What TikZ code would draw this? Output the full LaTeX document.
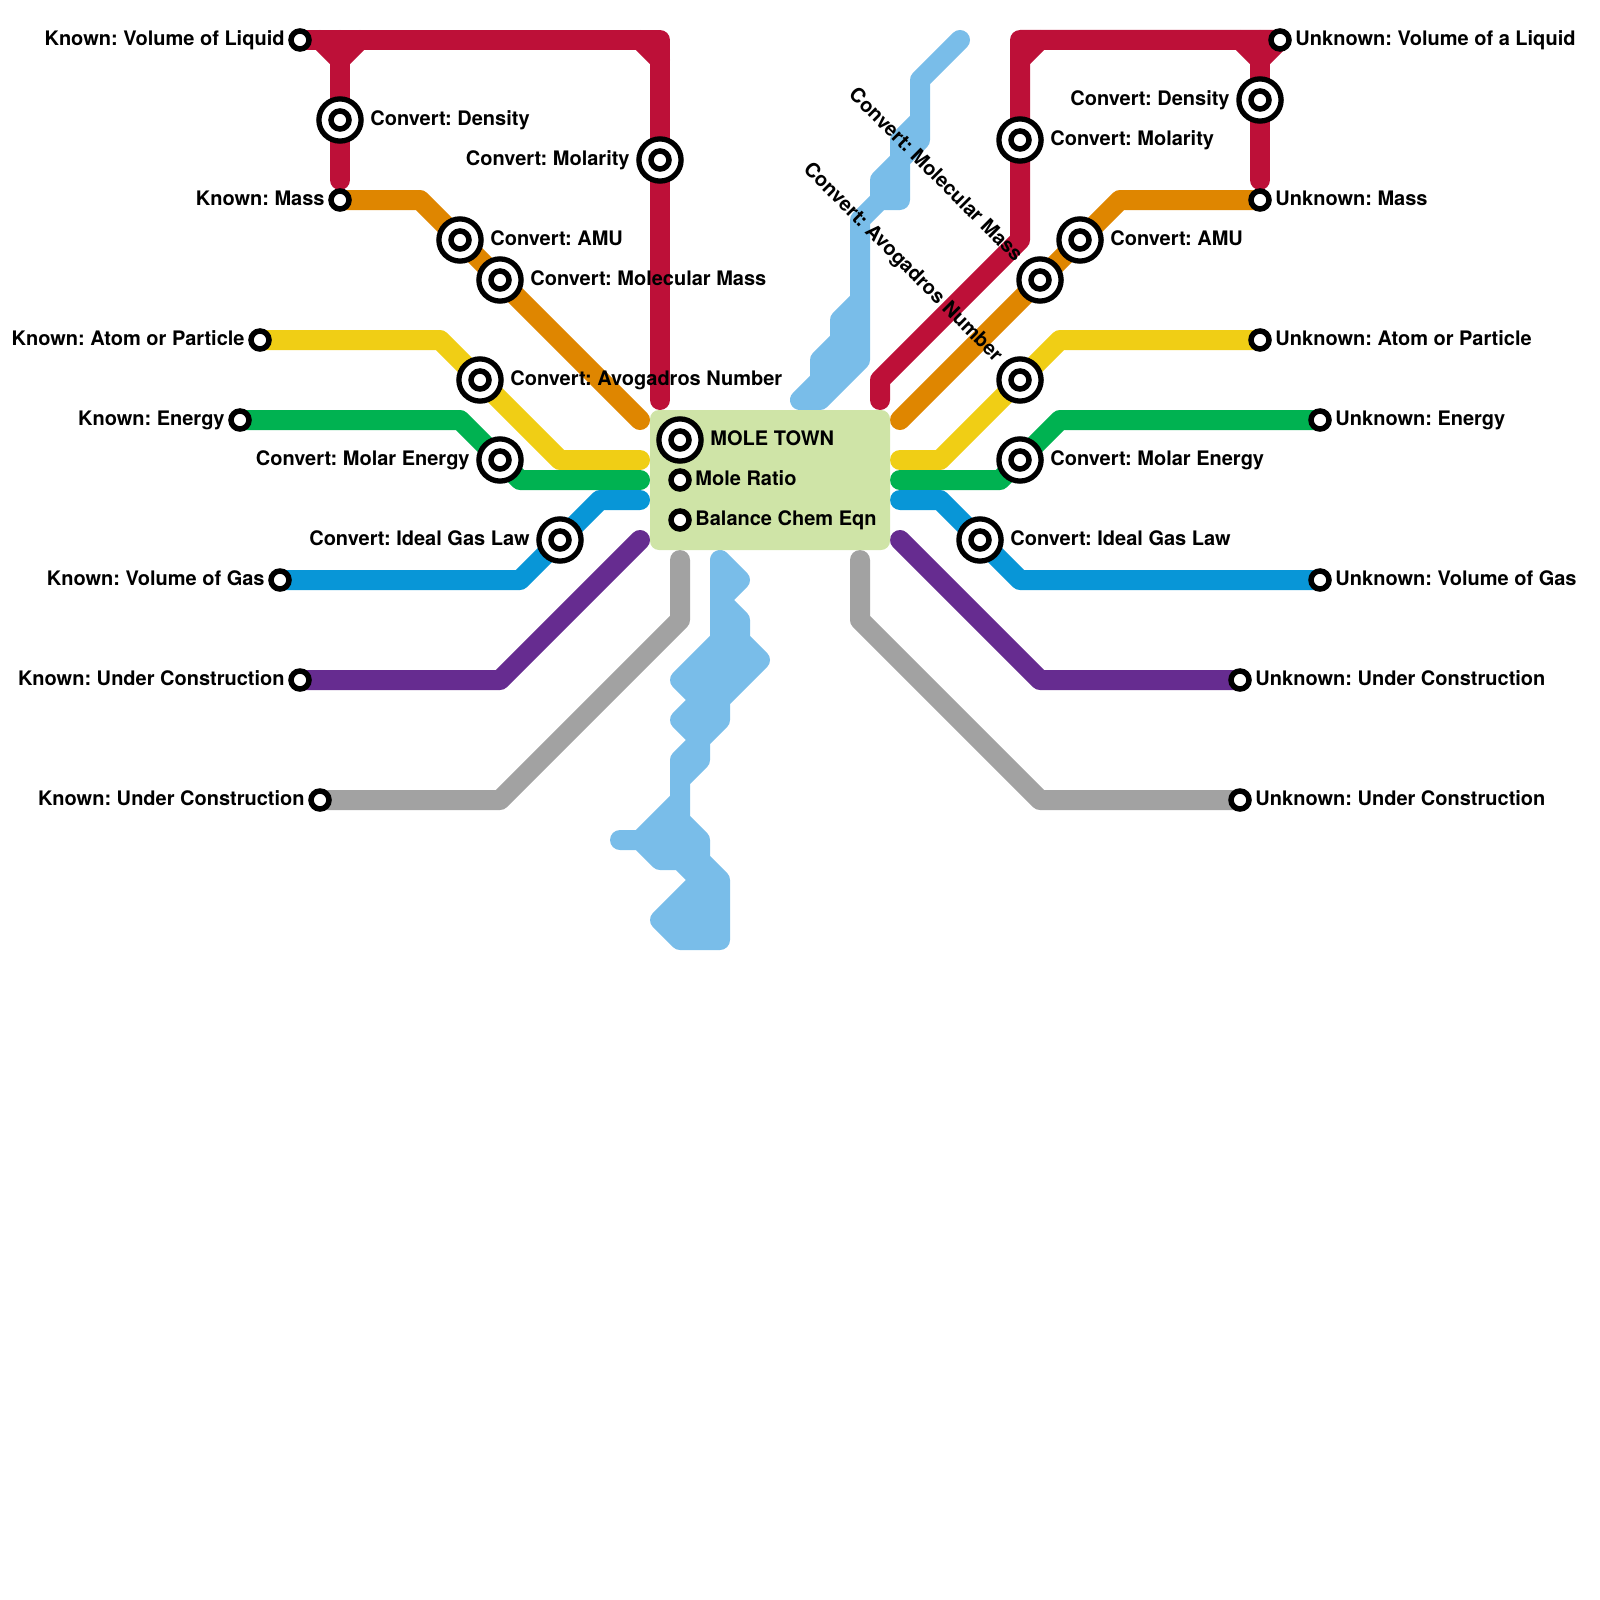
\documentclass[tikz,border=0pt]{standalone}
\usepackage{fontspec}
\setmainfont{TeX Gyre Heros}
\usetikzlibrary{backgrounds}
\frenchspacing
\definecolor{lred}{HTML}{BD1038}
\definecolor{lorange}{HTML}{DF8600}
\definecolor{lyellow}{HTML}{F0CE15}
\definecolor{lgreen}{HTML}{00B251}
\definecolor{lblue}{HTML}{0896D7}
\definecolor{lpurple}{HTML}{662C90}
\definecolor{lgray}{HTML}{A2A2A2}
\definecolor{lsky}{HTML}{79BDE9}
\definecolor{townbg}{HTML}{CFE4A7}
\begin{document}
\begin{tikzpicture}[
    x=0.5pt, y=-0.5pt,
    metro/.style={line width=10pt, line cap=round, line join=round},
    blob/.style={metro, draw=lsky, fill=lsky},
    stn/.style={circle, draw=black, fill=white, line width=2.75pt, inner sep=0pt, outer sep=0pt, minimum size=9pt},
    hub/.style={stn, line width=2.65pt, minimum size=21.1pt, path picture={
      \draw[line width=2.75pt, fill=white] (path picture bounding box.center) circle (4.5pt);}},
    town/.style={rectangle, fill=townbg, rounded corners=4.5pt, inner sep=0pt, minimum width=120pt, minimum height=70pt},
    lab/.style={font=\fontsize{10}{12}\selectfont\bfseries, inner sep=0pt},
    sr/.style={lab, anchor=base west, shift={(15,5.5)}},
    sl/.style={lab, anchor=base east, shift={(-15,5.5)}},
    hr/.style={lab, anchor=base west, shift={(30,5.5)}},
    hl/.style={lab, anchor=base east, shift={(-30,5.5)}},
    tilt/.style={lab, anchor=base east, shift={(-25,-17)}, rotate=-45}]
  \useasboundingbox (0,0) rectangle (1600,1600);
  \node[town] (mole) at (770,480) {};
  % left side stations
  \node[stn] (kvol)  at (300,40)  {};
  \node[hub] (ldens) at (340,120) {};
  \node[stn] (kmass) at (340,200) {};
  \node[hub] (lmolr) at (660,160) {};
  \node[hub] (lamu)  at (460,240) {};
  \node[hub] (lmm)   at (500,280) {};
  \node[stn] (katom) at (260,340) {};
  \node[hub] (lavo)  at (480,380) {};
  \node[stn] (kener) at (240,420) {};
  \node[hub] (lme)   at (500,460) {};
  \node[hub] (lgas)  at (560,540) {};
  \node[stn] (kgas)  at (280,580) {};
  \node[stn] (kuc)   at (300,680) {};
  \node[stn] (kuc2)  at (320,800) {};
  % right side stations
  \node[stn] (uvol)  at (1280,40)  {};
  \node[hub] (rdens) at (1260,100) {};
  \node[hub] (rmolr) at (1020,140) {};
  \node[stn] (umass) at (1260,200) {};
  \node[hub] (ramu)  at (1080,240) {};
  \node[hub] (rmm)   at (1040,280) {};
  \node[stn] (uatom) at (1260,340) {};
  \node[hub] (ravo)  at (1020,380) {};
  \node[stn] (uener) at (1320,420) {};
  \node[hub] (rme)   at (1020,460) {};
  \node[hub] (rgas)  at (980,540)  {};
  \node[stn] (ugas)  at (1320,580) {};
  \node[stn] (uuc)   at (1240,680) {};
  \node[stn] (uuc2)  at (1240,800) {};
  % town stations
  \node[hub] (tmole) at (680,440) {};
  \node[stn] (tratio) at (680,480) {};
  \node[stn] (tbal)  at (680,520) {};
  % free line ends
  \coordinate (lrE) at (660,400);
  \coordinate (loE) at (640,420);
  \coordinate (lyE) at (640,460);
  \coordinate (lgE) at (640,480);
  \coordinate (lbE) at (640,500);
  \coordinate (lpE) at (640,540);
  \coordinate (laE) at (680,560);
  \coordinate (rrE) at (880,400);
  \coordinate (roE) at (900,420);
  \coordinate (ryE) at (900,460);
  \coordinate (rgE) at (900,480);
  \coordinate (rbE) at (900,500);
  \coordinate (rpE) at (900,540);
  \coordinate (raE) at (860,560);
  \begin{scope}[on background layer]
    \draw[metro, lred] (kvol.center) -- (660,40) -- (lrE);
    \draw[metro, lred] (340,40) -- (kmass.center |- 0,180);
    \draw[metro, lred] (320,40) -- (340,60) -- (360,40);
    \draw[metro, lred] (640,40) -- (660,60);
    \draw[metro, lorange] (kmass.center) -- (420,200) -- (loE);
    \draw[metro, lyellow] (katom.center) -- (440,340) -- (560,460) -- (lyE);
    \draw[metro, lgreen] (kener.center) -- (460,420) -- (520,480) -- (lgE);
    \draw[metro, lblue] (kgas.center) -- (520,580) -- (600,500) -- (lbE);
    \draw[metro, lpurple] (kuc.center) -- (500,680) -- (lpE);
    \draw[metro, lgray] (kuc2.center) -- (500,800) -- (680,620) -- (laE);
    \draw[metro, lred] (uvol.center) -- (1020,40) -- (1020,240) -- (880,380) -- (rrE);
    \draw[metro, lred] (1260,40) -- (umass.center |- 0,180);
    \draw[metro, lred] (1240,40) -- (1260,60) -- (1280,40);
    \draw[metro, lred] (1040,40) -- (1020,60);
    \draw[metro, lorange] (umass.center) -- (1120,200) -- (roE);
    \draw[metro, lyellow] (uatom.center) -- (1060,340) -- (940,460) -- (ryE);
    \draw[metro, lgreen] (uener.center) -- (1060,420) -- (1000,480) -- (rgE);
    \draw[metro, lblue] (ugas.center) -- (1020,580) -- (940,500) -- (rbE);
    \draw[metro, lpurple] (uuc.center) -- (1040,680) -- (rpE);
    \draw[metro, lgray] (uuc2.center) -- (1040,800) -- (860,620) -- (raE);
    % the two sky blue patches
    \draw[blob] (800,400) -- (820,380) -- (820,360) -- (840,340) -- (840,320) -- (860,300)
      -- (860,220) -- (880,200) -- (880,180) -- (900,160) -- (900,140) -- (920,120) -- (920,80)
      -- (960,40) -- (920,80) -- (920,140) -- (900,160) -- (900,200) -- (880,200) -- (860,220)
      -- (860,360) -- (820,400) -- cycle;
    \draw[blob] (720,560) -- (740,580) -- (720,600) -- (740,620) -- (740,640) -- (760,660)
      -- (720,700) -- (720,720) -- (700,740) -- (700,760) -- (680,780) -- (680,820) -- (700,840)
      -- (700,860) -- (720,880) -- (720,940) -- (680,940) -- (660,920) -- (700,880) -- (680,860)
      -- (660,860) -- (640,840) -- (620,840) -- (640,840) -- (680,800) -- (680,760) -- (700,740)
      -- (680,720) -- (700,700) -- (680,680) -- (720,640) -- cycle;
  \end{scope}
  % labels
  \node[sl] (tkvol)  at (kvol)  {Known: Volume of Liquid};
  \node[hr] (tldens) at (ldens) {Convert: Density};
  \node[sl] (tkmass) at (kmass) {Known: Mass};
  \node[hl] (tlmolr) at (lmolr) {Convert: Molarity};
  \node[hr] (tlamu)  at (lamu)  {Convert: AMU};
  \node[hr] (tlmm)   at (lmm)   {Convert: Molecular Mass};
  \node[sl] (tkatom) at (katom) {Known: Atom or Particle};
  \node[hr] (tlavo)  at (lavo)  {Convert: Avogadros Number};
  \node[sl] (tkener) at (kener) {Known: Energy};
  \node[hl] (tlme)   at (lme)   {Convert: Molar Energy};
  \node[hl] (tlgas)  at (lgas)  {Convert: Ideal Gas Law};
  \node[sl] (tkgas)  at (kgas)  {Known: Volume of Gas};
  \node[sl] (tkuc)   at (kuc)   {Known: Under Construction};
  \node[sl] (tkuc2)  at (kuc2)  {Known: Under Construction};
  \node[sr] (tuvol)  at (uvol)  {Unknown: Volume of a Liquid};
  \node[hl] (trdens) at (rdens) {Convert: Density};
  \node[hr] (trmolr) at (rmolr) {Convert: Molarity};
  \node[sr] (tumass) at (umass) {Unknown: Mass};
  \node[hr] (tramu)  at (ramu)  {Convert: AMU};
  \node[tilt] (trmm) at (rmm)   {Convert: Molecular Mass};
  \node[sr] (tuatom) at (uatom) {Unknown: Atom or Particle};
  \node[tilt] (travo) at (ravo) {Convert: Avogadros Number};
  \node[sr] (tuener) at (uener) {Unknown: Energy};
  \node[hr] (trme)   at (rme)   {Convert: Molar Energy};
  \node[hr] (trgas)  at (rgas)  {Convert: Ideal Gas Law};
  \node[sr] (tugas)  at (ugas)  {Unknown: Volume of Gas};
  \node[sr] (tuuc)   at (uuc)   {Unknown: Under Construction};
  \node[sr] (tuuc2)  at (uuc2)  {Unknown: Under Construction};
  \node[hr] (ttmole) at (tmole) {MOLE TOWN};
  \node[sr] (ttratio) at (tratio) {Mole Ratio};
  \node[sr] (ttbal)  at (tbal)  {Balance Chem Eqn};
\end{tikzpicture}
\end{document}
